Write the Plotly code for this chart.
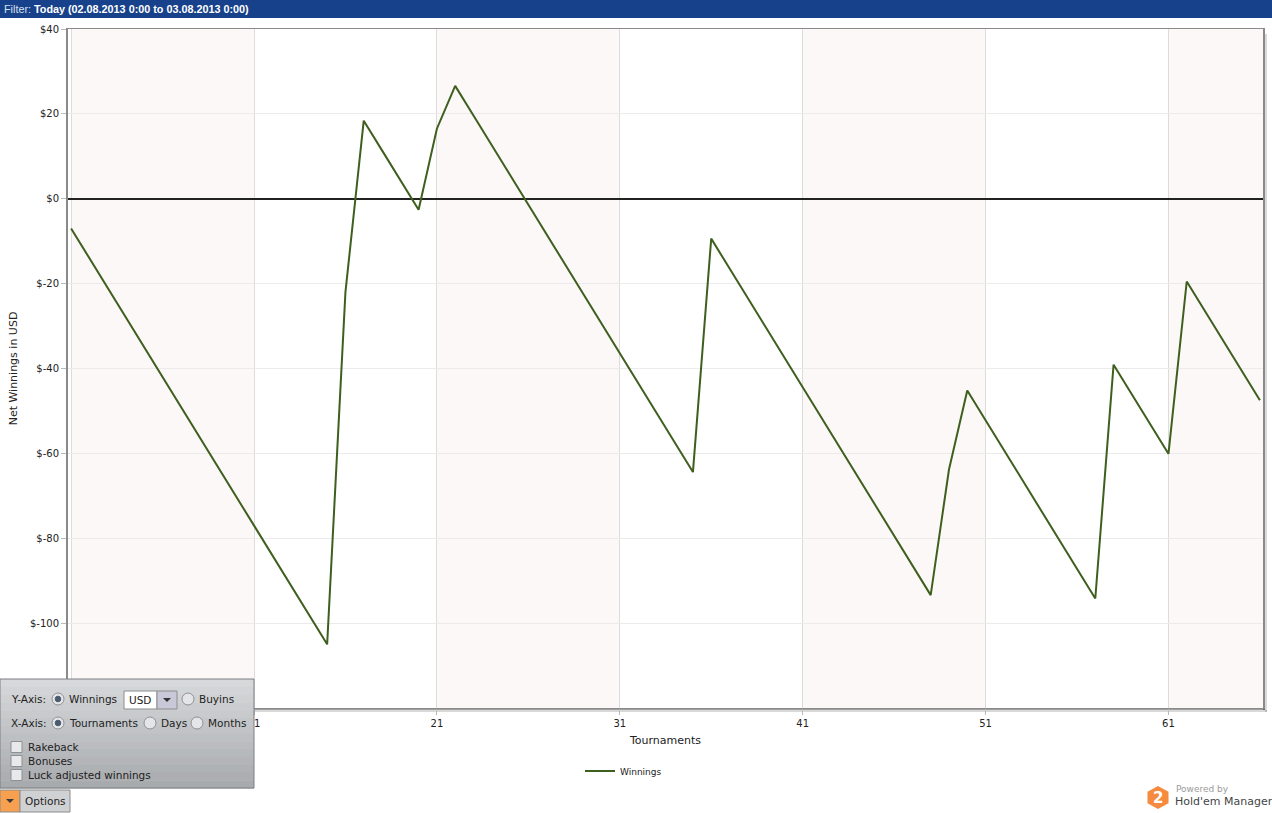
"""Cumulative net winnings per tournament, Hold'em Manager style."""
import plotly.graph_objects as go

# ---- data -------------------------------------------------------------
tournaments = list(range(1, 67))
net_winnings = [
    -7, -14, -21, -28, -35, -42, -49, -56, -63, -70,
    -77, -84, -91, -98, -105, -22, 18.4, 11.4, 4.4, -2.6,
    16.5, 26.6, 19.6, 12.6, 5.6, -1.4, -8.4, -15.4, -22.4, -29.4,
    -36.4, -43.4, -50.4, -57.4, -64.4, -9.4, -16.4, -23.4, -30.4, -37.4,
    -44.4, -51.4, -58.4, -65.4, -72.4, -79.4, -86.4, -93.4, -63.8, -45.2,
    -52.2, -59.2, -66.2, -73.2, -80.2, -87.2, -94.2, -39.1, -46.1, -53.1,
    -60.1, -19.5, -26.5, -33.5, -40.5, -47.5,
]
x_tick_vals = [1, 11, 21, 31, 41, 51, 61]
y_tick_vals = [40, 20, 0, -20, -40, -60, -80, -100, -120]
y_tick_text = ["$40", "$20", "$0", "$-20", "$-40", "$-60", "$-80", "$-100", "$-120"]
band_starts = [1, 21, 41, 61]
band_width = 10
x_range = [0.83, 66.17]
y_range = [-120, 40]

# ---- geometry helpers (pixel -> paper) ---------------------------------
W, H = 1272, 813
L, R, T, B = 68, 1263, 29, 708
FONT = "DejaVu Sans"


def px(x):
    return (x - L) / (R - L)


def py(y):
    return (B - y) / (B - T)


def rect(x0, y0, x1, y1, fill, line=None, width=1, layer="above"):
    return dict(type="rect", xref="paper", yref="paper",
                x0=px(x0), x1=px(x1), y0=py(y1), y1=py(y0),
                fillcolor=fill, layer=layer,
                line=dict(color=line or "rgba(0,0,0,0)", width=width if line else 0))


def circle(cx, cy, r, fill, line):
    return dict(type="circle", xref="paper", yref="paper",
                x0=px(cx - r), x1=px(cx + r), y0=py(cy + r), y1=py(cy - r),
                fillcolor=fill, line=dict(color=line, width=1), layer="above")


def poly(points, fill):
    d = "M " + " L ".join(f"{px(x):.5f},{py(y):.5f}" for x, y in points) + " Z"
    return dict(type="path", xref="paper", yref="paper", path=d,
                fillcolor=fill, line=dict(width=0), layer="above")


def text(x, y, s, size=10.5, color="#222", anchor="left", family=FONT):
    # annotations carry a little padding on the anchored side
    if anchor == "left":
        x -= 1.5
    return dict(xref="paper", yref="paper", x=px(x), y=py(y), text=s,
                showarrow=False, xanchor=anchor, yanchor="middle",
                font=dict(family=family, size=size, color=color))


fig = go.Figure()
fig.add_trace(go.Scatter(
    x=tournaments, y=net_winnings, name="Winnings", mode="lines",
    line=dict(color="#3f5f1f", width=2),
))

shapes = []
# alternating tournament bands
for s in band_starts:
    shapes.append(dict(type="rect", xref="x", yref="paper",
                       x0=max(s, x_range[0]), x1=min(s + band_width, x_range[1]),
                       y0=0, y1=1, fillcolor="#fbf8f7", line=dict(width=0),
                       layer="below"))

# drop shadow of the plot frame
shapes += [
    rect(R, T + 4, R + 2, B + 2, "rgba(0,0,0,0.38)", layer="below"),
    rect(R + 2, T + 5, R + 4, B + 4, "rgba(0,0,0,0.15)", layer="below"),
    rect(L + 4, B, R + 2, B + 2, "rgba(0,0,0,0.38)", layer="below"),
    rect(L + 5, B + 2, R + 4, B + 4, "rgba(0,0,0,0.15)", layer="below"),
]

# top filter banner
shapes.append(rect(0, 0, W, 18, "#17418a"))

# options panel (vertical gradient in strips)
top_c, bot_c = (214, 216, 218), (168, 171, 174)
n = 14
y0, y1 = 679, 788
for i in range(n):
    f = i / (n - 1)
    c = tuple(round(a + (b - a) * f) for a, b in zip(top_c, bot_c))
    ya = y0 + (y1 - y0) * i / n
    yb = y0 + (y1 - y0) * (i + 1) / n
    shapes.append(rect(0, ya, 254, yb + 0.5, f"rgb{c}"))
shapes.append(rect(0, y0, 254, y1, "rgba(0,0,0,0)", line="#7d7f82"))

# USD dropdown
shapes.append(rect(124, 691, 157, 709, "#ffffff", line="#8c8c8c"))
shapes.append(rect(157, 691, 177, 709, "#c9c8d8", line="#8c8c8c"))
shapes.append(poly([(163, 698), (171, 698), (167, 702)], "#333"))

# radio buttons
for cx, cy, on in [(58, 699, True), (188, 699, False),
                   (58, 723, True), (150, 723, False), (197, 723, False)]:
    shapes.append(circle(cx, cy, 6, "#e4e5e7", "#8e9094"))
    if on:
        shapes.append(circle(cx, cy, 2.8, "#4a5a70", "#4a5a70"))

# checkboxes
for cy in [747, 761, 775]:
    shapes.append(rect(11, cy - 5.5, 22, cy + 5.5, "#e8e9ea", line="#8e9094"))

# options button
shapes.append(rect(0, 790, 20, 812, "#f7a04f", line="#8c8c8c"))
shapes.append(poly([(6, 799), (14, 799), (10, 803)], "#3a3a3a"))
shapes.append(rect(20, 790, 70, 812, "#cfd1d3", line="#8c8c8c"))

# hexagon logo
hx, hy, hr = 1158, 797.5, 11.5
shapes.append(poly([(hx, hy - hr), (hx + 10.5, hy - hr / 2), (hx + 10.5, hy + hr / 2),
                    (hx, hy + hr), (hx - 10.5, hy + hr / 2), (hx - 10.5, hy - hr / 2)],
                   "#f58b3f"))

annotations = [
    text(3, 9, "<span style='color:#d8e0ee'>Filter:</span> "
         "<b>Today (02.08.2013 0:00 to 03.08.2013 0:00)</b>",
         size=10.8, color="#ffffff", family="Liberation Sans"),
    text(10, 699, "Y-Axis:"), text(68, 699, "Winnings"), text(128, 700, "USD"),
    text(198, 699, "Buyins"),
    text(10, 723, "X-Axis:"), text(68, 723, "Tournaments"), text(160, 723, "Days"),
    text(207, 723, "Months"),
    text(27, 747, "Rakeback"), text(27, 761, "Bonuses"),
    text(27, 775, "Luck adjusted winnings"),
    text(24, 801, "Options"),
    text(1158, 798, "<b>2</b>", size=15, color="#ffffff", anchor="center"),
    text(1175, 789, "Powered by", size=9, color="#9a9a9a"),
    text(1174, 801, "Hold'em Manager", size=11, color="#444444"),
]

fig.update_layout(
    width=W, height=H,
    margin=dict(l=L, r=W - R, t=T, b=H - B, autoexpand=False),
    paper_bgcolor="#ffffff", plot_bgcolor="#ffffff",
    font=dict(family=FONT, size=10, color="#222"),
    showlegend=True,
    legend=dict(orientation="h", x=px(580), y=py(771), xanchor="left",
                yanchor="middle", font=dict(size=9), itemwidth=30,
                bgcolor="rgba(0,0,0,0)"),
    shapes=shapes, annotations=annotations,
    xaxis=dict(range=x_range, tickvals=x_tick_vals, showgrid=True,
               gridcolor="#dcdcdc", ticks="outside", ticklen=6,
               tickcolor="#bbbbbb", showline=True, mirror=True,
               linecolor="#8a8a8a", linewidth=1, zeroline=False,
               title=dict(text="Tournaments", font=dict(size=11), standoff=8)),
    yaxis=dict(range=y_range, tickvals=y_tick_vals, ticktext=y_tick_text,
               showgrid=True, gridcolor="#ebebeb", ticks="outside", ticklen=5,
               tickcolor="#bbbbbb", showline=True, mirror=True,
               linecolor="#8a8a8a", linewidth=2, zeroline=True,
               zerolinecolor="#222222", zerolinewidth=2,
               title=dict(text="Net Winnings in USD", font=dict(size=11),
                          standoff=10)),
)

# the page's default body margin would shift the fixed-size figure
fig.write_html("out.html", config={"displayModeBar": False},
               post_script="document.body.style.margin='0';")
